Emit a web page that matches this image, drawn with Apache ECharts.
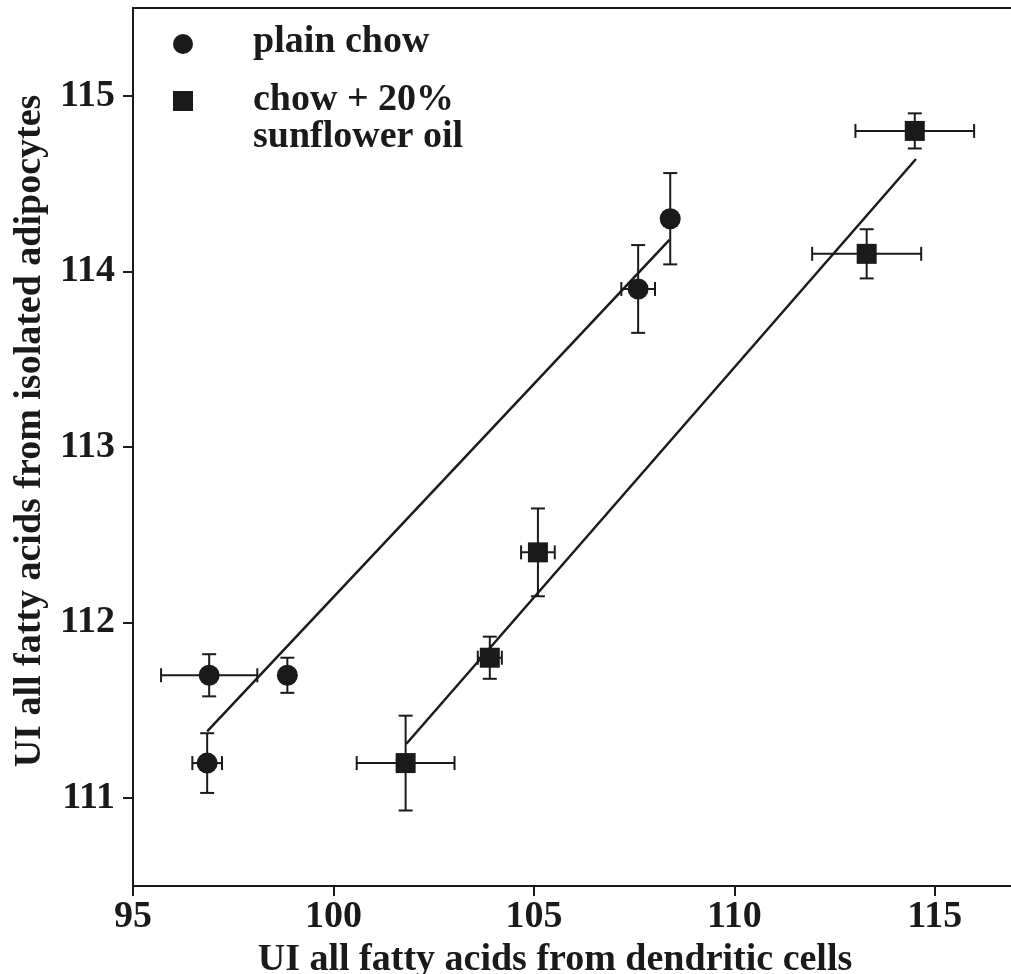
<!DOCTYPE html>
<html>
<head>
<meta charset="utf-8">
<script src="https://cdn.jsdelivr.net/npm/echarts@6/dist/echarts.min.js"></script>
<style>
  html, body { margin: 0; padding: 0; background: #fff; }
  #chart { width: 1011px; height: 974px; }
</style>
</head>
<body>
<div id="chart"></div>
<script>
// plain chow (circles)
var chowX = [96.9, 98.85, 96.85, 107.6, 108.4];
var chowY = [111.7, 111.7, 111.2, 113.9, 114.3];
var chowXErr = [1.2, 0, 0.37, 0.42, 0];
var chowYErr = [0.12, 0.1, 0.17, 0.25, 0.26];

// chow + 20% sunflower oil (squares)
var sunX = [101.8, 103.9, 105.1, 113.3, 114.5];
var sunY = [111.2, 111.8, 112.4, 114.1, 114.8];
var sunXErr = [1.22, 0.3, 0.42, 1.36, 1.48];
var sunYErr = [0.27, 0.12, 0.25, 0.14, 0.1];

// fitted lines, end points
var chowFitX = [96.85, 108.38];
var chowFitY = [111.38, 114.18];
var sunFitX = [101.82, 114.53];
var sunFitY = [111.31, 114.64];

var xTicks = [95, 100, 105, 110, 115];
var yTicks = [111, 112, 113, 114, 115];

var ink = '#1a1a1a';
var font = '"Liberation Serif", "DejaVu Serif", serif';

function pairs(xs, ys) {
    return xs.map(function (x, i) { return [x, ys[i]]; });
}

function withErr(xs, ys, xe, ye) {
    return xs.map(function (x, i) { return [x, ys[i], xe[i], ye[i]]; });
}

function errorBars(params, api) {
    var x = api.value(0), y = api.value(1);
    var ex = api.value(2), ey = api.value(3);
    var cap = 7;
    var style = { stroke: ink, lineWidth: 2 };
    var kids = [];
    if (ey > 0) {
        var top = api.coord([x, y + ey]);
        var bot = api.coord([x, y - ey]);
        kids.push({ type: 'line', shape: { x1: top[0], y1: top[1], x2: bot[0], y2: bot[1] }, style: style });
        kids.push({ type: 'line', shape: { x1: top[0] - cap, y1: top[1], x2: top[0] + cap, y2: top[1] }, style: style });
        kids.push({ type: 'line', shape: { x1: bot[0] - cap, y1: bot[1], x2: bot[0] + cap, y2: bot[1] }, style: style });
    }
    if (ex > 0) {
        var l = api.coord([x - ex, y]);
        var r = api.coord([x + ex, y]);
        kids.push({ type: 'line', shape: { x1: l[0], y1: l[1], x2: r[0], y2: r[1] }, style: style });
        kids.push({ type: 'line', shape: { x1: l[0], y1: l[1] - cap, x2: l[0], y2: l[1] + cap }, style: style });
        kids.push({ type: 'line', shape: { x1: r[0], y1: r[1] - cap, x2: r[0], y2: r[1] + cap }, style: style });
    }
    return { type: 'group', children: kids };
}

var chart = echarts.init(document.getElementById('chart'));

var labelStyle = { color: ink, fontFamily: font, fontWeight: 'bold', fontSize: 38 };

chart.setOption({
    backgroundColor: '#fff',
    animation: false,
    grid: { left: 133, right: 0, top: 8, bottom: 88, outerBoundsMode: 'none' },
    xAxis: [{
        type: 'value',
        min: 95,
        max: 116.9,
        splitLine: { show: false },
        axisLine: { lineStyle: { color: ink, width: 2 } },
        axisTick: { length: 10, lineStyle: { color: ink, width: 2 }, customValues: xTicks },
        axisLabel: Object.assign({ margin: 12, customValues: xTicks }, labelStyle),
        name: 'UI all fatty acids from dendritic cells',
        nameLocation: 'middle',
        nameGap: 52,
        nameTextStyle: Object.assign({ padding: [0, 34, 0, 0] }, labelStyle)
    }, {
        type: 'value',
        position: 'top',
        min: 95,
        max: 116.9,
        splitLine: { show: false },
        axisLine: { onZero: false, lineStyle: { color: ink, width: 2 } },
        axisTick: { show: false },
        axisLabel: { show: false }
    }],
    yAxis: {
        type: 'value',
        min: 110.5,
        max: 115.5,
        splitLine: { show: false },
        axisLine: { show: true, lineStyle: { color: ink, width: 2 } },
        axisTick: { show: true, length: 10, lineStyle: { color: ink, width: 2 }, customValues: yTicks },
        axisLabel: Object.assign({ margin: 18, customValues: yTicks }, labelStyle),
        name: 'UI all fatty acids from isolated adipocytes',
        nameLocation: 'middle',
        nameGap: 84,
        nameTextStyle: Object.assign({ padding: [0, 0, 0, 32] }, labelStyle)
    },
    graphic: [
        { type: 'circle', shape: { cx: 183, cy: 44, r: 10 }, style: { fill: ink } },
        { type: 'rect', shape: { x: 173, y: 91, width: 20, height: 20 }, style: { fill: ink } },
        { type: 'text', x: 253, y: 42, style: { text: 'plain chow', fill: ink, font: 'bold 38px ' + font, verticalAlign: 'middle' } },
        { type: 'text', x: 253, y: 100, style: { text: 'chow + 20%', fill: ink, font: 'bold 38px ' + font, verticalAlign: 'middle' } },
        { type: 'text', x: 253, y: 137, style: { text: 'sunflower oil', fill: ink, font: 'bold 38px ' + font, verticalAlign: 'middle' } }
    ],
    series: [
        {
            type: 'custom',
            renderItem: errorBars,
            encode: { x: 0, y: 1 },
            data: withErr(chowX, chowY, chowXErr, chowYErr),
            z: 2
        },
        {
            type: 'custom',
            renderItem: errorBars,
            encode: { x: 0, y: 1 },
            data: withErr(sunX, sunY, sunXErr, sunYErr),
            z: 2
        },
        {
            type: 'line',
            data: pairs(chowFitX, chowFitY),
            showSymbol: false,
            lineStyle: { color: ink, width: 2.5 },
            z: 3
        },
        {
            type: 'line',
            data: pairs(sunFitX, sunFitY),
            showSymbol: false,
            lineStyle: { color: ink, width: 2.5 },
            z: 3
        },
        {
            name: 'plain chow',
            type: 'scatter',
            symbol: 'circle',
            symbolSize: 21,
            itemStyle: { color: ink, opacity: 1 },
            data: pairs(chowX, chowY),
            z: 4
        },
        {
            name: 'chow + 20% sunflower oil',
            type: 'scatter',
            symbol: 'rect',
            symbolSize: 20,
            itemStyle: { color: ink, opacity: 1 },
            data: pairs(sunX, sunY),
            z: 4
        }
    ]
});
</script>
</body>
</html>
